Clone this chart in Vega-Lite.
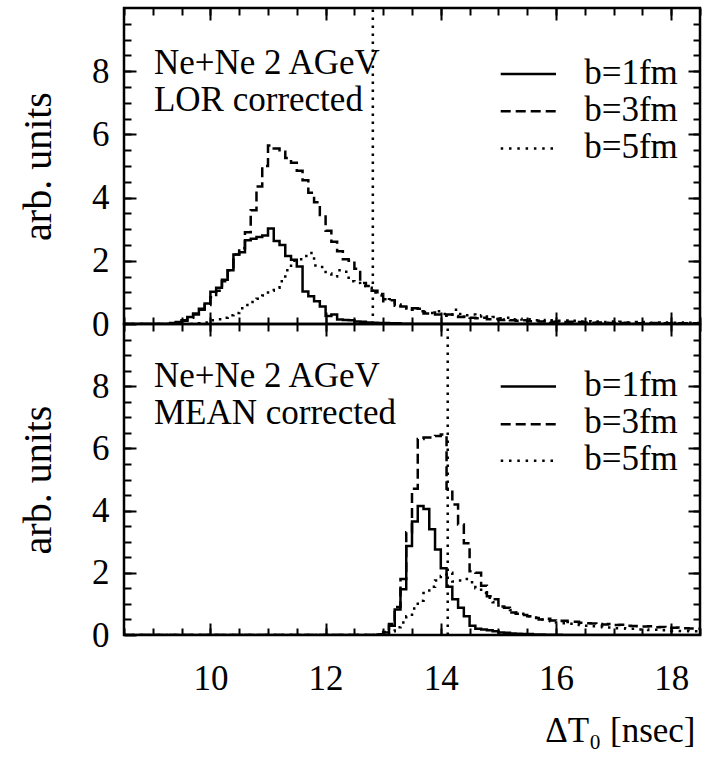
{
"$schema": "https://vega.github.io/schema/vega-lite/v6.json",
"background": "white",
"padding": {"left": 17, "top": 5, "right": 3, "bottom": 5},
"spacing": 0,
"bounds": "flush",
"config": {
  "font": "Liberation Serif",
  "view": {"stroke": "black", "strokeWidth": 2.5},
  "axis": {"domain": false, "grid": false, "tickColor": "black", "tickWidth": 2, "labelColor": "black", "labelFontSize": 35, "labelFont": "Liberation Serif", "titleFont": "Liberation Serif", "titleColor": "black", "titleFontWeight": "normal", "titleFontSize": 40, "labelFlush": false, "labelOverlap": false, "minExtent": 0},
  "text": {"color": "black", "font": "Liberation Serif"}
},
"datasets": {
"lor": [
{"s":"b=1fm","t":8.5,"v":0},{"s":"b=1fm","t":9.3,"v":0.03},{"s":"b=1fm","t":9.4,"v":0.06},{"s":"b=1fm","t":9.5,"v":0.12},{"s":"b=1fm","t":9.6,"v":0.22},{"s":"b=1fm","t":9.7,"v":0.33},{"s":"b=1fm","t":9.8,"v":0.48},{"s":"b=1fm","t":9.9,"v":0.65},{"s":"b=1fm","t":10.0,"v":1.02},{"s":"b=1fm","t":10.1,"v":1.15},{"s":"b=1fm","t":10.2,"v":1.4},{"s":"b=1fm","t":10.3,"v":1.7},{"s":"b=1fm","t":10.4,"v":2.2},{"s":"b=1fm","t":10.5,"v":2.27},{"s":"b=1fm","t":10.6,"v":2.65},{"s":"b=1fm","t":10.7,"v":2.7},{"s":"b=1fm","t":10.8,"v":2.75},{"s":"b=1fm","t":10.9,"v":2.8},{"s":"b=1fm","t":11.0,"v":3.02},{"s":"b=1fm","t":11.1,"v":2.63},{"s":"b=1fm","t":11.2,"v":2.5},{"s":"b=1fm","t":11.3,"v":2.15},{"s":"b=1fm","t":11.4,"v":2.03},{"s":"b=1fm","t":11.5,"v":1.82},{"s":"b=1fm","t":11.6,"v":1.03},{"s":"b=1fm","t":11.7,"v":0.88},{"s":"b=1fm","t":11.8,"v":0.72},{"s":"b=1fm","t":11.9,"v":0.55},{"s":"b=1fm","t":12.0,"v":0.25},{"s":"b=1fm","t":12.1,"v":0.3},{"s":"b=1fm","t":12.2,"v":0.14},{"s":"b=1fm","t":12.3,"v":0.13},{"s":"b=1fm","t":12.4,"v":0.12},{"s":"b=1fm","t":12.5,"v":0.08},{"s":"b=1fm","t":12.6,"v":0.07},{"s":"b=1fm","t":12.7,"v":0.05},{"s":"b=1fm","t":12.8,"v":0.04},{"s":"b=1fm","t":12.9,"v":0.03},{"s":"b=1fm","t":13.0,"v":0.03},{"s":"b=1fm","t":13.1,"v":0.02},{"s":"b=1fm","t":13.2,"v":0.02},{"s":"b=1fm","t":13.3,"v":0.01},{"s":"b=1fm","t":13.4,"v":0.01},{"s":"b=1fm","t":13.5,"v":0},{"s":"b=1fm","t":18.5,"v":0},
{"s":"b=3fm","t":8.5,"v":0},{"s":"b=3fm","t":9.3,"v":0.02},{"s":"b=3fm","t":9.4,"v":0.05},{"s":"b=3fm","t":9.5,"v":0.1},{"s":"b=3fm","t":9.6,"v":0.2},{"s":"b=3fm","t":9.7,"v":0.3},{"s":"b=3fm","t":9.8,"v":0.45},{"s":"b=3fm","t":9.9,"v":0.6},{"s":"b=3fm","t":10.0,"v":0.85},{"s":"b=3fm","t":10.1,"v":1.05},{"s":"b=3fm","t":10.2,"v":1.35},{"s":"b=3fm","t":10.3,"v":1.7},{"s":"b=3fm","t":10.4,"v":2.2},{"s":"b=3fm","t":10.5,"v":2.4},{"s":"b=3fm","t":10.6,"v":2.9},{"s":"b=3fm","t":10.7,"v":3.6},{"s":"b=3fm","t":10.8,"v":4.35},{"s":"b=3fm","t":10.9,"v":5.0},{"s":"b=3fm","t":11.0,"v":5.65},{"s":"b=3fm","t":11.1,"v":5.55},{"s":"b=3fm","t":11.2,"v":5.45},{"s":"b=3fm","t":11.3,"v":5.25},{"s":"b=3fm","t":11.4,"v":5.1},{"s":"b=3fm","t":11.5,"v":4.85},{"s":"b=3fm","t":11.6,"v":4.55},{"s":"b=3fm","t":11.7,"v":4.15},{"s":"b=3fm","t":11.8,"v":3.85},{"s":"b=3fm","t":11.9,"v":3.45},{"s":"b=3fm","t":12.0,"v":2.95},{"s":"b=3fm","t":12.1,"v":2.6},{"s":"b=3fm","t":12.2,"v":2.3},{"s":"b=3fm","t":12.3,"v":2.05},{"s":"b=3fm","t":12.4,"v":2.0},{"s":"b=3fm","t":12.5,"v":1.75},{"s":"b=3fm","t":12.6,"v":1.3},{"s":"b=3fm","t":12.7,"v":1.2},{"s":"b=3fm","t":12.8,"v":1.05},{"s":"b=3fm","t":12.9,"v":0.9},{"s":"b=3fm","t":13.0,"v":0.78},{"s":"b=3fm","t":13.1,"v":0.75},{"s":"b=3fm","t":13.2,"v":0.58},{"s":"b=3fm","t":13.3,"v":0.55},{"s":"b=3fm","t":13.4,"v":0.45},{"s":"b=3fm","t":13.5,"v":0.5},{"s":"b=3fm","t":13.6,"v":0.4},{"s":"b=3fm","t":13.7,"v":0.33},{"s":"b=3fm","t":13.8,"v":0.36},{"s":"b=3fm","t":13.9,"v":0.3},{"s":"b=3fm","t":14.0,"v":0.26},{"s":"b=3fm","t":14.1,"v":0.3},{"s":"b=3fm","t":14.2,"v":0.25},{"s":"b=3fm","t":14.3,"v":0.22},{"s":"b=3fm","t":14.4,"v":0.24},{"s":"b=3fm","t":14.5,"v":0.2},{"s":"b=3fm","t":14.6,"v":0.18},{"s":"b=3fm","t":14.7,"v":0.2},{"s":"b=3fm","t":14.8,"v":0.15},{"s":"b=3fm","t":14.9,"v":0.16},{"s":"b=3fm","t":15.0,"v":0.13},{"s":"b=3fm","t":15.1,"v":0.14},{"s":"b=3fm","t":15.2,"v":0.12},{"s":"b=3fm","t":15.3,"v":0.1},{"s":"b=3fm","t":15.4,"v":0.12},{"s":"b=3fm","t":15.5,"v":0.09},{"s":"b=3fm","t":15.6,"v":0.1},{"s":"b=3fm","t":15.7,"v":0.08},{"s":"b=3fm","t":15.8,"v":0.09},{"s":"b=3fm","t":15.9,"v":0.07},{"s":"b=3fm","t":16.0,"v":0.08},{"s":"b=3fm","t":16.1,"v":0.06},{"s":"b=3fm","t":16.2,"v":0.07},{"s":"b=3fm","t":16.3,"v":0.05},{"s":"b=3fm","t":16.4,"v":0.06},{"s":"b=3fm","t":16.5,"v":0.05},{"s":"b=3fm","t":16.6,"v":0.04},{"s":"b=3fm","t":16.7,"v":0.05},{"s":"b=3fm","t":16.8,"v":0.04},{"s":"b=3fm","t":16.9,"v":0.03},{"s":"b=3fm","t":17.0,"v":0.04},{"s":"b=3fm","t":17.1,"v":0.03},{"s":"b=3fm","t":17.2,"v":0.04},{"s":"b=3fm","t":17.3,"v":0.03},{"s":"b=3fm","t":17.4,"v":0.02},{"s":"b=3fm","t":17.5,"v":0.03},{"s":"b=3fm","t":17.6,"v":0.02},{"s":"b=3fm","t":17.7,"v":0.03},{"s":"b=3fm","t":17.8,"v":0.02},{"s":"b=3fm","t":17.9,"v":0.02},{"s":"b=3fm","t":18.0,"v":0.03},{"s":"b=3fm","t":18.1,"v":0.02},{"s":"b=3fm","t":18.2,"v":0.02},{"s":"b=3fm","t":18.3,"v":0.01},{"s":"b=3fm","t":18.4,"v":0.02},{"s":"b=3fm","t":18.5,"v":0.02},
{"s":"b=5fm","t":8.5,"v":0},{"s":"b=5fm","t":9.8,"v":0.02},{"s":"b=5fm","t":9.9,"v":0.05},{"s":"b=5fm","t":10.0,"v":0.12},{"s":"b=5fm","t":10.1,"v":0.15},{"s":"b=5fm","t":10.2,"v":0.2},{"s":"b=5fm","t":10.3,"v":0.28},{"s":"b=5fm","t":10.4,"v":0.35},{"s":"b=5fm","t":10.5,"v":0.5},{"s":"b=5fm","t":10.6,"v":0.6},{"s":"b=5fm","t":10.7,"v":0.7},{"s":"b=5fm","t":10.8,"v":0.8},{"s":"b=5fm","t":10.9,"v":0.9},{"s":"b=5fm","t":11.0,"v":1.05},{"s":"b=5fm","t":11.1,"v":1.15},{"s":"b=5fm","t":11.2,"v":1.35},{"s":"b=5fm","t":11.3,"v":1.7},{"s":"b=5fm","t":11.4,"v":2.0},{"s":"b=5fm","t":11.5,"v":2.05},{"s":"b=5fm","t":11.6,"v":2.15},{"s":"b=5fm","t":11.7,"v":2.25},{"s":"b=5fm","t":11.8,"v":1.85},{"s":"b=5fm","t":11.9,"v":1.8},{"s":"b=5fm","t":12.0,"v":1.6},{"s":"b=5fm","t":12.1,"v":1.5},{"s":"b=5fm","t":12.2,"v":1.7},{"s":"b=5fm","t":12.3,"v":1.65},{"s":"b=5fm","t":12.4,"v":1.35},{"s":"b=5fm","t":12.5,"v":1.3},{"s":"b=5fm","t":12.6,"v":1.2},{"s":"b=5fm","t":12.7,"v":1.15},{"s":"b=5fm","t":12.8,"v":1.0},{"s":"b=5fm","t":12.9,"v":0.95},{"s":"b=5fm","t":13.0,"v":0.72},{"s":"b=5fm","t":13.1,"v":0.78},{"s":"b=5fm","t":13.2,"v":0.62},{"s":"b=5fm","t":13.3,"v":0.58},{"s":"b=5fm","t":13.4,"v":0.52},{"s":"b=5fm","t":13.5,"v":0.45},{"s":"b=5fm","t":13.6,"v":0.48},{"s":"b=5fm","t":13.7,"v":0.38},{"s":"b=5fm","t":13.8,"v":0.35},{"s":"b=5fm","t":13.9,"v":0.4},{"s":"b=5fm","t":14.0,"v":0.32},{"s":"b=5fm","t":14.1,"v":0.3},{"s":"b=5fm","t":14.2,"v":0.45},{"s":"b=5fm","t":14.3,"v":0.32},{"s":"b=5fm","t":14.4,"v":0.28},{"s":"b=5fm","t":14.5,"v":0.3},{"s":"b=5fm","t":14.6,"v":0.24},{"s":"b=5fm","t":14.7,"v":0.28},{"s":"b=5fm","t":14.8,"v":0.2},{"s":"b=5fm","t":14.9,"v":0.22},{"s":"b=5fm","t":15.0,"v":0.18},{"s":"b=5fm","t":15.1,"v":0.2},{"s":"b=5fm","t":15.2,"v":0.15},{"s":"b=5fm","t":15.3,"v":0.17},{"s":"b=5fm","t":15.4,"v":0.14},{"s":"b=5fm","t":15.5,"v":0.15},{"s":"b=5fm","t":15.6,"v":0.12},{"s":"b=5fm","t":15.7,"v":0.13},{"s":"b=5fm","t":15.8,"v":0.1},{"s":"b=5fm","t":15.9,"v":0.12},{"s":"b=5fm","t":16.0,"v":0.1},{"s":"b=5fm","t":16.1,"v":0.11},{"s":"b=5fm","t":16.2,"v":0.09},{"s":"b=5fm","t":16.3,"v":0.1},{"s":"b=5fm","t":16.4,"v":0.08},{"s":"b=5fm","t":16.5,"v":0.09},{"s":"b=5fm","t":16.6,"v":0.07},{"s":"b=5fm","t":16.7,"v":0.08},{"s":"b=5fm","t":16.8,"v":0.06},{"s":"b=5fm","t":16.9,"v":0.08},{"s":"b=5fm","t":17.0,"v":0.06},{"s":"b=5fm","t":17.1,"v":0.07},{"s":"b=5fm","t":17.2,"v":0.05},{"s":"b=5fm","t":17.3,"v":0.06},{"s":"b=5fm","t":17.4,"v":0.05},{"s":"b=5fm","t":17.5,"v":0.06},{"s":"b=5fm","t":17.6,"v":0.04},{"s":"b=5fm","t":17.7,"v":0.05},{"s":"b=5fm","t":17.8,"v":0.04},{"s":"b=5fm","t":17.9,"v":0.05},{"s":"b=5fm","t":18.0,"v":0.04},{"s":"b=5fm","t":18.1,"v":0.05},{"s":"b=5fm","t":18.2,"v":0.03},{"s":"b=5fm","t":18.3,"v":0.04},{"s":"b=5fm","t":18.4,"v":0.03},{"s":"b=5fm","t":18.5,"v":0.03}
],
"mean": [
{"s":"b=1fm","t":8.5,"v":0},{"s":"b=1fm","t":12.9,"v":0.02},{"s":"b=1fm","t":13.0,"v":0.08},{"s":"b=1fm","t":13.1,"v":0.3},{"s":"b=1fm","t":13.2,"v":0.82},{"s":"b=1fm","t":13.3,"v":1.47},{"s":"b=1fm","t":13.4,"v":2.86},{"s":"b=1fm","t":13.5,"v":3.65},{"s":"b=1fm","t":13.6,"v":4.15},{"s":"b=1fm","t":13.7,"v":4.05},{"s":"b=1fm","t":13.8,"v":3.4},{"s":"b=1fm","t":13.9,"v":2.75},{"s":"b=1fm","t":14.0,"v":2.15},{"s":"b=1fm","t":14.1,"v":1.55},{"s":"b=1fm","t":14.2,"v":1.15},{"s":"b=1fm","t":14.3,"v":0.88},{"s":"b=1fm","t":14.4,"v":0.6},{"s":"b=1fm","t":14.5,"v":0.3},{"s":"b=1fm","t":14.6,"v":0.2},{"s":"b=1fm","t":14.7,"v":0.18},{"s":"b=1fm","t":14.8,"v":0.15},{"s":"b=1fm","t":14.9,"v":0.12},{"s":"b=1fm","t":15.0,"v":0.08},{"s":"b=1fm","t":15.1,"v":0.07},{"s":"b=1fm","t":15.2,"v":0.05},{"s":"b=1fm","t":15.3,"v":0.04},{"s":"b=1fm","t":15.4,"v":0.03},{"s":"b=1fm","t":15.5,"v":0.03},{"s":"b=1fm","t":15.6,"v":0.02},{"s":"b=1fm","t":15.7,"v":0.02},{"s":"b=1fm","t":15.8,"v":0.01},{"s":"b=1fm","t":15.9,"v":0.01},{"s":"b=1fm","t":16.0,"v":0.01},{"s":"b=1fm","t":16.1,"v":0},{"s":"b=1fm","t":18.5,"v":0},
{"s":"b=3fm","t":8.5,"v":0},{"s":"b=3fm","t":12.9,"v":0.02},{"s":"b=3fm","t":13.0,"v":0.1},{"s":"b=3fm","t":13.1,"v":0.35},{"s":"b=3fm","t":13.2,"v":0.9},{"s":"b=3fm","t":13.3,"v":1.8},{"s":"b=3fm","t":13.4,"v":3.3},{"s":"b=3fm","t":13.5,"v":4.7},{"s":"b=3fm","t":13.6,"v":6.3},{"s":"b=3fm","t":13.7,"v":6.35},{"s":"b=3fm","t":13.8,"v":6.35},{"s":"b=3fm","t":13.9,"v":6.4},{"s":"b=3fm","t":14.0,"v":6.45},{"s":"b=3fm","t":14.1,"v":4.7},{"s":"b=3fm","t":14.2,"v":4.2},{"s":"b=3fm","t":14.3,"v":3.55},{"s":"b=3fm","t":14.4,"v":2.95},{"s":"b=3fm","t":14.5,"v":2.05},{"s":"b=3fm","t":14.6,"v":2.0},{"s":"b=3fm","t":14.7,"v":1.58},{"s":"b=3fm","t":14.8,"v":1.25},{"s":"b=3fm","t":14.9,"v":1.15},{"s":"b=3fm","t":15.0,"v":0.92},{"s":"b=3fm","t":15.1,"v":0.88},{"s":"b=3fm","t":15.2,"v":0.72},{"s":"b=3fm","t":15.3,"v":0.68},{"s":"b=3fm","t":15.4,"v":0.64},{"s":"b=3fm","t":15.5,"v":0.6},{"s":"b=3fm","t":15.6,"v":0.55},{"s":"b=3fm","t":15.7,"v":0.5},{"s":"b=3fm","t":15.8,"v":0.52},{"s":"b=3fm","t":15.9,"v":0.47},{"s":"b=3fm","t":16.0,"v":0.45},{"s":"b=3fm","t":16.1,"v":0.46},{"s":"b=3fm","t":16.2,"v":0.42},{"s":"b=3fm","t":16.3,"v":0.43},{"s":"b=3fm","t":16.4,"v":0.39},{"s":"b=3fm","t":16.5,"v":0.38},{"s":"b=3fm","t":16.6,"v":0.37},{"s":"b=3fm","t":16.7,"v":0.35},{"s":"b=3fm","t":16.8,"v":0.34},{"s":"b=3fm","t":16.9,"v":0.35},{"s":"b=3fm","t":17.0,"v":0.32},{"s":"b=3fm","t":17.1,"v":0.33},{"s":"b=3fm","t":17.2,"v":0.3},{"s":"b=3fm","t":17.3,"v":0.29},{"s":"b=3fm","t":17.4,"v":0.28},{"s":"b=3fm","t":17.5,"v":0.27},{"s":"b=3fm","t":17.6,"v":0.28},{"s":"b=3fm","t":17.7,"v":0.25},{"s":"b=3fm","t":17.8,"v":0.26},{"s":"b=3fm","t":17.9,"v":0.24},{"s":"b=3fm","t":18.0,"v":0.23},{"s":"b=3fm","t":18.1,"v":0.24},{"s":"b=3fm","t":18.2,"v":0.22},{"s":"b=3fm","t":18.3,"v":0.21},{"s":"b=3fm","t":18.4,"v":0.2},{"s":"b=3fm","t":18.5,"v":0.2},
{"s":"b=5fm","t":8.5,"v":0},{"s":"b=5fm","t":12.9,"v":0.02},{"s":"b=5fm","t":13.0,"v":0.05},{"s":"b=5fm","t":13.1,"v":0.12},{"s":"b=5fm","t":13.2,"v":0.25},{"s":"b=5fm","t":13.3,"v":0.4},{"s":"b=5fm","t":13.4,"v":0.6},{"s":"b=5fm","t":13.5,"v":0.85},{"s":"b=5fm","t":13.6,"v":1.1},{"s":"b=5fm","t":13.7,"v":1.35},{"s":"b=5fm","t":13.8,"v":1.55},{"s":"b=5fm","t":13.9,"v":1.75},{"s":"b=5fm","t":14.0,"v":1.9},{"s":"b=5fm","t":14.1,"v":2.0},{"s":"b=5fm","t":14.2,"v":1.72},{"s":"b=5fm","t":14.3,"v":1.75},{"s":"b=5fm","t":14.4,"v":1.8},{"s":"b=5fm","t":14.5,"v":1.7},{"s":"b=5fm","t":14.6,"v":1.5},{"s":"b=5fm","t":14.7,"v":1.35},{"s":"b=5fm","t":14.8,"v":1.2},{"s":"b=5fm","t":14.9,"v":1.05},{"s":"b=5fm","t":15.0,"v":0.95},{"s":"b=5fm","t":15.1,"v":0.88},{"s":"b=5fm","t":15.2,"v":0.8},{"s":"b=5fm","t":15.3,"v":0.72},{"s":"b=5fm","t":15.4,"v":0.68},{"s":"b=5fm","t":15.5,"v":0.6},{"s":"b=5fm","t":15.6,"v":0.56},{"s":"b=5fm","t":15.7,"v":0.5},{"s":"b=5fm","t":15.8,"v":0.46},{"s":"b=5fm","t":15.9,"v":0.44},{"s":"b=5fm","t":16.0,"v":0.4},{"s":"b=5fm","t":16.1,"v":0.38},{"s":"b=5fm","t":16.2,"v":0.36},{"s":"b=5fm","t":16.3,"v":0.33},{"s":"b=5fm","t":16.4,"v":0.32},{"s":"b=5fm","t":16.5,"v":0.3},{"s":"b=5fm","t":16.6,"v":0.28},{"s":"b=5fm","t":16.7,"v":0.27},{"s":"b=5fm","t":16.8,"v":0.25},{"s":"b=5fm","t":16.9,"v":0.24},{"s":"b=5fm","t":17.0,"v":0.22},{"s":"b=5fm","t":17.1,"v":0.22},{"s":"b=5fm","t":17.2,"v":0.2},{"s":"b=5fm","t":17.3,"v":0.2},{"s":"b=5fm","t":17.4,"v":0.18},{"s":"b=5fm","t":17.5,"v":0.18},{"s":"b=5fm","t":17.6,"v":0.16},{"s":"b=5fm","t":17.7,"v":0.17},{"s":"b=5fm","t":17.8,"v":0.15},{"s":"b=5fm","t":17.9,"v":0.15},{"s":"b=5fm","t":18.0,"v":0.14},{"s":"b=5fm","t":18.1,"v":0.13},{"s":"b=5fm","t":18.2,"v":0.13},{"s":"b=5fm","t":18.3,"v":0.12},{"s":"b=5fm","t":18.4,"v":0.12},{"s":"b=5fm","t":18.5,"v":0.12}
]
},
"vconcat": [
{
  "width": 576, "height": 316,
  "resolve": {"axis": {"x": "independent", "y": "independent"}},
  "layer": [
    {"data": {"name": "lor"},
     "mark": {"type": "line", "interpolate": "step-after", "color": "black", "strokeWidth": 2.5, "clip": true},
     "encoding": {
       "x": {"field": "t", "type": "quantitative", "scale": {"domain": [8.5, 18.5], "nice": false, "zero": false}, "axis": {"orient": "bottom", "values": [10, 12, 14, 16, 18], "tickSize": -12, "labels": false, "title": null}},
       "y": {"field": "v", "type": "quantitative", "scale": {"domain": [0, 10], "nice": false}, "axis": {"orient": "left", "values": [0, 2, 4, 6, 8], "tickSize": -12, "labelPadding": 27, "title": "arb. units", "titlePadding": 33}},
       "strokeDash": {"field": "s", "type": "nominal", "scale": {"domain": ["b=1fm", "b=3fm", "b=5fm"], "range": [[1, 0], [10, 5], [2.5, 5.8]]}, "legend": null}
     }},
    {"data": {"values": [{}]},
     "mark": {"type": "text", "align": "left", "baseline": "alphabetic", "fontSize": 35, "lineHeight": 37},
     "encoding": {
       "x": {"datum": 9.02, "type": "quantitative", "axis": {"orient": "bottom", "values": [8.5, 9, 9.5, 10, 10.5, 11, 11.5, 12, 12.5, 13, 13.5, 14, 14.5, 15, 15.5, 16, 16.5, 17, 17.5, 18, 18.5], "tickSize": -7, "labels": false, "title": null}},
       "y": {"datum": 7.91, "type": "quantitative", "axis": {"orient": "left", "values": [0.5, 1, 1.5, 2, 2.5, 3, 3.5, 4, 4.5, 5, 5.5, 6, 6.5, 7, 7.5, 8, 8.5, 9, 9.5], "tickSize": -7, "labels": false, "title": null}},
       "text": {"value": ["Ne+Ne 2 AGeV", "LOR corrected"]}
     }},
    {"data": {"values": [{}]},
     "mark": {"type": "rule", "color": "black", "strokeWidth": 2.5, "strokeDash": [2.5, 5.5]},
     "encoding": {
       "x": {"datum": 12.82, "type": "quantitative", "axis": {"orient": "top", "values": [10, 12, 14, 16, 18], "tickSize": -12, "labels": false, "title": null}},
       "y": {"datum": 0, "type": "quantitative", "axis": {"orient": "right", "values": [2, 4, 6, 8], "tickSize": -12, "labels": false, "title": null}},
       "y2": {"datum": 10}
     }},
    {"data": {"values": [{}]},
     "mark": {"type": "text", "align": "left", "baseline": "alphabetic", "fontSize": 35, "lineHeight": 37},
     "encoding": {
       "x": {"datum": 16.49, "type": "quantitative", "axis": {"orient": "top", "values": [8.5, 9, 9.5, 10, 10.5, 11, 11.5, 12, 12.5, 13, 13.5, 14, 14.5, 15, 15.5, 16, 16.5, 17, 17.5, 18, 18.5], "tickSize": -7, "labels": false, "title": null}},
       "y": {"datum": 7.6, "type": "quantitative", "axis": {"orient": "right", "values": [0.5, 1, 1.5, 2, 2.5, 3, 3.5, 4, 4.5, 5, 5.5, 6, 6.5, 7, 7.5, 8, 8.5, 9, 9.5], "tickSize": -7, "labels": false, "title": null}},
       "text": {"value": ["b=1fm", "b=3fm", "b=5fm"]}
     }},
    {"data": {"values": [{}]},
     "mark": {"type": "rule", "color": "black", "strokeWidth": 2.5},
     "encoding": {"x": {"datum": 15.04, "type": "quantitative", "axis": null}, "x2": {"datum": 16.0}, "y": {"datum": 7.91, "type": "quantitative", "axis": null}}},
    {"data": {"values": [{}]},
     "mark": {"type": "rule", "color": "black", "strokeWidth": 2.5, "strokeDash": [10, 5]},
     "encoding": {"x": {"datum": 15.04, "type": "quantitative", "axis": null}, "x2": {"datum": 16.0}, "y": {"datum": 6.73, "type": "quantitative", "axis": null}}},
    {"data": {"values": [{}]},
     "mark": {"type": "rule", "color": "black", "strokeWidth": 2.5, "strokeDash": [2.5, 5.8]},
     "encoding": {"x": {"datum": 15.04, "type": "quantitative", "axis": null}, "x2": {"datum": 16.0}, "y": {"datum": 5.55, "type": "quantitative", "axis": null}}}
  ]
},
{
  "width": 576, "height": 311,
  "resolve": {"axis": {"x": "independent", "y": "independent"}},
  "layer": [
    {"data": {"name": "mean"},
     "mark": {"type": "line", "interpolate": "step-after", "color": "black", "strokeWidth": 2.5, "clip": true},
     "encoding": {
       "x": {"field": "t", "type": "quantitative", "scale": {"domain": [8.5, 18.5], "nice": false, "zero": false}, "axis": {"orient": "bottom", "values": [10, 12, 14, 16, 18], "tickSize": -12, "labelPadding": 38, "title": "ΔT₀ [nsec]", "titleFontSize": 35, "titleX": 571, "titleY": 106, "titleAlign": "right", "titleBaseline": "alphabetic"}},
       "y": {"field": "v", "type": "quantitative", "scale": {"domain": [0, 10], "nice": false}, "axis": {"orient": "left", "values": [0, 2, 4, 6, 8], "tickSize": -12, "labelPadding": 27, "title": "arb. units", "titlePadding": 33}},
       "strokeDash": {"field": "s", "type": "nominal", "scale": {"domain": ["b=1fm", "b=3fm", "b=5fm"], "range": [[1, 0], [10, 5], [2.5, 5.8]]}, "legend": null}
     }},
    {"data": {"values": [{}]},
     "mark": {"type": "text", "align": "left", "baseline": "alphabetic", "fontSize": 35, "lineHeight": 36.5},
     "encoding": {
       "x": {"datum": 9.02, "type": "quantitative", "axis": {"orient": "bottom", "values": [8.5, 9, 9.5, 10, 10.5, 11, 11.5, 12, 12.5, 13, 13.5, 14, 14.5, 15, 15.5, 16, 16.5, 17, 17.5, 18, 18.5], "tickSize": -7, "labels": false, "title": null}},
       "y": {"datum": 7.96, "type": "quantitative", "axis": {"orient": "left", "values": [0.5, 1, 1.5, 2, 2.5, 3, 3.5, 4, 4.5, 5, 5.5, 6, 6.5, 7, 7.5, 8, 8.5, 9, 9.5], "tickSize": -7, "labels": false, "title": null}},
       "text": {"value": ["Ne+Ne 2 AGeV", "MEAN corrected"]}
     }},
    {"data": {"values": [{}]},
     "mark": {"type": "rule", "color": "black", "strokeWidth": 2.5, "strokeDash": [2.5, 5.5]},
     "encoding": {
       "x": {"datum": 14.12, "type": "quantitative", "axis": {"orient": "top", "values": [10, 12, 14, 16, 18], "tickSize": -12, "labels": false, "title": null}},
       "y": {"datum": 0, "type": "quantitative", "axis": {"orient": "right", "values": [2, 4, 6, 8], "tickSize": -12, "labels": false, "title": null}},
       "y2": {"datum": 10}
     }},
    {"data": {"values": [{}]},
     "mark": {"type": "text", "align": "left", "baseline": "alphabetic", "fontSize": 35, "lineHeight": 37},
     "encoding": {
       "x": {"datum": 16.49, "type": "quantitative", "axis": {"orient": "top", "values": [8.5, 9, 9.5, 10, 10.5, 11, 11.5, 12, 12.5, 13, 13.5, 14, 14.5, 15, 15.5, 16, 16.5, 17, 17.5, 18, 18.5], "tickSize": -7, "labels": false, "title": null}},
       "y": {"datum": 7.69, "type": "quantitative", "axis": {"orient": "right", "values": [0.5, 1, 1.5, 2, 2.5, 3, 3.5, 4, 4.5, 5, 5.5, 6, 6.5, 7, 7.5, 8, 8.5, 9, 9.5], "tickSize": -7, "labels": false, "title": null}},
       "text": {"value": ["b=1fm", "b=3fm", "b=5fm"]}
     }},
    {"data": {"values": [{}]},
     "mark": {"type": "rule", "color": "black", "strokeWidth": 2.5},
     "encoding": {"x": {"datum": 15.04, "type": "quantitative", "axis": null}, "x2": {"datum": 16.0}, "y": {"datum": 7.99, "type": "quantitative", "axis": null}}},
    {"data": {"values": [{}]},
     "mark": {"type": "rule", "color": "black", "strokeWidth": 2.5, "strokeDash": [10, 5]},
     "encoding": {"x": {"datum": 15.04, "type": "quantitative", "axis": null}, "x2": {"datum": 16.0}, "y": {"datum": 6.78, "type": "quantitative", "axis": null}}},
    {"data": {"values": [{}]},
     "mark": {"type": "rule", "color": "black", "strokeWidth": 2.5, "strokeDash": [2.5, 5.8]},
     "encoding": {"x": {"datum": 15.04, "type": "quantitative", "axis": null}, "x2": {"datum": 16.0}, "y": {"datum": 5.6, "type": "quantitative", "axis": null}}}
  ]
}
]
}
